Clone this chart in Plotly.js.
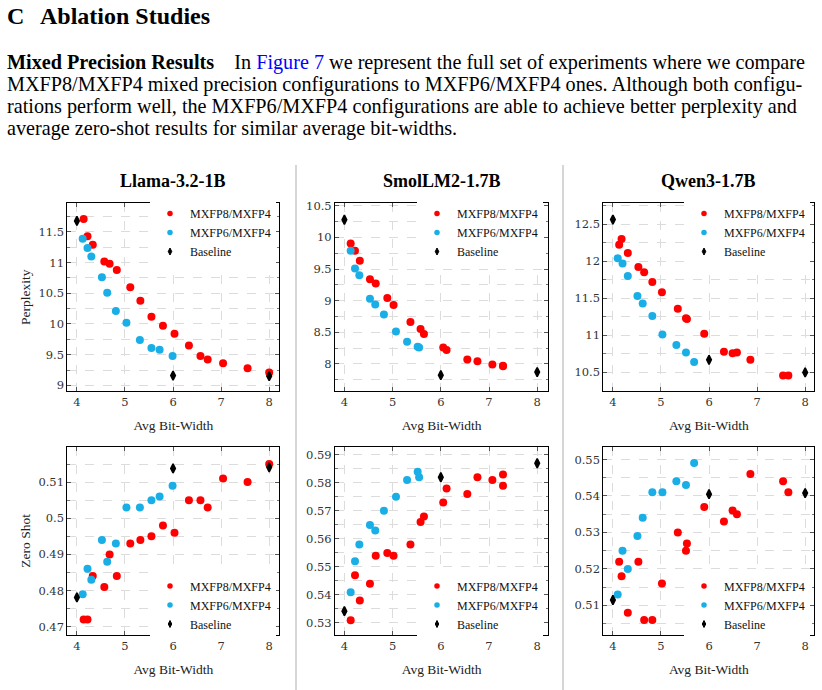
<!DOCTYPE html>
<html>
<head>
<meta charset="utf-8">
<script src="https://cdn.plot.ly/plotly-3.0.1.min.js"></script>
<style>
html,body{margin:0;padding:0;background:#fff;}
#chart{width:822px;height:690px;}
</style>
</head>
<body>
<div id="chart"></div>
<script>
// ---------------- DATA ----------------
const seriesNames = ['MXFP8/MXFP4', 'MXFP6/MXFP4', 'Baseline'];
const modelNames = ['Llama-3.2-1B', 'SmolLM2-1.7B', 'Qwen3-1.7B'];
const baselineBits = [4, 6, 8];

// Llama-3.2-1B
const llamaBitsFP8 = [4.14, 4.22, 4.33, 4.57, 4.68, 4.83, 5.11, 5.32, 5.55, 5.79, 6.03, 6.33, 6.57, 6.72, 7.04, 7.55, 8.0];
const llamaPplFP8  = [11.71, 11.43, 11.29, 11.02, 10.98, 10.88, 10.60, 10.38, 10.12, 9.97, 9.84, 9.65, 9.48, 9.42, 9.36, 9.28, 9.21];
const llamaZsFP8   = [0.472, 0.472, 0.484, 0.481, 0.490, 0.484, 0.493, 0.494, 0.495, 0.498, 0.496, 0.505, 0.505, 0.503, 0.511, 0.510, 0.515];
const llamaBitsFP6 = [4.12, 4.22, 4.30, 4.52, 4.63, 4.81, 5.03, 5.31, 5.55, 5.72, 5.99];
const llamaPplFP6  = [11.39, 11.24, 11.10, 10.76, 10.51, 10.21, 10.02, 9.74, 9.61, 9.58, 9.48];
const llamaZsFP6   = [0.479, 0.486, 0.483, 0.494, 0.488, 0.493, 0.503, 0.503, 0.505, 0.506, 0.509];
const llamaPplBase = [11.68, 9.16, 9.15];
const llamaZsBase  = [0.4781, 0.5138, 0.5141];

// SmolLM2-1.7B
const smolBitsFP8 = [4.13, 4.22, 4.32, 4.53, 4.65, 4.89, 5.02, 5.37, 5.58, 5.65, 6.05, 6.12, 6.55, 6.76, 7.07, 7.29, 7.29];
const smolPplFP8  = [9.905, 9.79, 9.63, 9.34, 9.27, 9.04, 8.93, 8.66, 8.55, 8.47, 8.26, 8.22, 8.07, 8.04, 7.99, 7.96, 7.97];
const smolZsFP8   = [0.531, 0.547, 0.538, 0.544, 0.554, 0.555, 0.554, 0.558, 0.566, 0.568, 0.573, 0.578, 0.576, 0.582, 0.581, 0.583, 0.579];
const smolBitsFP6 = [4.13, 4.22, 4.31, 4.53, 4.64, 4.82, 5.07, 5.30, 5.52, 5.55];
const smolPplFP6  = [9.79, 9.51, 9.40, 9.03, 8.94, 8.78, 8.51, 8.35, 8.27, 8.26];
const smolZsFP6   = [0.541, 0.552, 0.558, 0.565, 0.563, 0.570, 0.575, 0.581, 0.584, 0.582];
const smolPplBase = [10.28, 7.82, 7.87];
const smolZsBase  = [0.5342, 0.582, 0.587];

// Qwen3-1.7B
const qwenBitsFP8 = [4.13, 4.18, 4.31, 4.53, 4.65, 4.82, 5.02, 5.35, 5.52, 5.54, 5.90, 6.31, 6.49, 6.58, 6.86, 7.54, 7.65];
const qwenPplFP8  = [12.22, 12.30, 12.11, 11.92, 11.85, 11.72, 11.58, 11.36, 11.23, 11.22, 11.02, 10.78, 10.76, 10.77, 10.67, 10.46, 10.46];
const qwenZsFP8   = [0.522, 0.518, 0.508, 0.522, 0.506, 0.506, 0.516, 0.530, 0.525, 0.527, 0.537, 0.533, 0.536, 0.535, 0.546, 0.544, 0.541];
const qwenBitsFP6 = [4.10, 4.20, 4.31, 4.51, 4.62, 4.82, 5.03, 5.32, 5.52, 5.69];
const qwenPplFP6  = [12.04, 11.97, 11.80, 11.53, 11.43, 11.26, 11.01, 10.87, 10.77, 10.64];
const qwenZsFP6   = [0.513, 0.525, 0.520, 0.529, 0.534, 0.541, 0.541, 0.544, 0.543, 0.549];
const qwenPplBase = [12.56, 10.67, 10.50];
const qwenZsBase  = [0.5115, 0.5405, 0.5408];

// text
const sectionNumber = 'C';
const sectionTitle = 'Ablation Studies';
const paragraphLines = [
  "<b>Mixed Precision Results</b>\u2003In <span style='color:#0000ff'>Figure 7</span> we represent the full set of experiments where we compare",
  "MXFP8/MXFP4 mixed precision configurations to MXFP6/MXFP4 ones. Although both configu-",
  "rations perform well, the MXFP6/MXFP4 configurations are able to achieve better perplexity and",
  "average zero-shot results for similar average bit-widths."
];
const xTitle = 'Avg Bit-Width';
const yTitles = ['Perplexity', 'Zero Shot'];

// ---------------- LAYOUT HELPERS ----------------
const W = 822, H = 690;
const fx = p => p / W;
const fy = p => 1 - p / H;
const RED = '#ff0000', BLUE = '#1aaee6', BLACK = '#000000';
const SERIF = 'Liberation Serif';
const TICKFONT = {family: 'DejaVu Serif', size: 11.5, color: '#333'};

const cols = [[67.3, 279.3], [335, 548.3], [603.3, 814.3]];
const rows = [[203.3, 391], [446.7, 635]];
const xRanges = [[3.8, 8.21], [3.805, 8.23], [3.8, 8.19]];

const panels = [
  {r:0, c:0, f8:[llamaBitsFP8, llamaPplFP8], f6:[llamaBitsFP6, llamaPplFP6], base: llamaPplBase, yr:[8.908, 11.967], dt:0.5, mdt:0.25},
  {r:0, c:1, f8:[smolBitsFP8, smolPplFP8],   f6:[smolBitsFP6, smolPplFP6],   base: smolPplBase,  yr:[7.57, 10.54],   dt:0.5, mdt:0.25},
  {r:0, c:2, f8:[qwenBitsFP8, qwenPplFP8],   f6:[qwenBitsFP6, qwenPplFP6],   base: qwenPplBase,  yr:[10.25, 12.78],  dt:0.5, mdt:0.25},
  {r:1, c:0, f8:[llamaBitsFP8, llamaZsFP8],  f6:[llamaBitsFP6, llamaZsFP6],  base: llamaZsBase,  yr:[0.4677, 0.5198], dt:0.01, mdt:0.005},
  {r:1, c:1, f8:[smolBitsFP8, smolZsFP8],    f6:[smolBitsFP6, smolZsFP6],    base: smolZsBase,   yr:[0.5257, 0.5929], dt:0.01, mdt:0.005},
  {r:1, c:2, f8:[qwenBitsFP8, qwenZsFP8],    f6:[qwenBitsFP6, qwenZsFP6],    base: qwenZsBase,   yr:[0.5019, 0.5535], dt:0.01, mdt:0.005}
];
// legend text right-edge (px) and middle-row center (px)
const legendPos = [[271, 232.5], [538, 232.5], [805, 232.5], [271, 605], [538, 605], [805, 605]];

const traces = [];
const layout = {
  width: W, height: H,
  margin: {l:0, r:0, t:0, b:0},
  paper_bgcolor: '#fff', plot_bgcolor: '#fff',
  showlegend: true,
  annotations: [], shapes: []
};

panels.forEach((p, i) => {
  const n = i + 1;
  const xa = n === 1 ? 'x' : 'x' + n;
  const ya = n === 1 ? 'y' : 'y' + n;
  const lg = n === 1 ? 'legend' : 'legend' + n;
  const common = {type:'scatter', mode:'markers', xaxis: xa, yaxis: ya, hoverinfo:'x+y', showlegend:false};
  traces.push(Object.assign({}, common, {x: p.f8[0], y: p.f8[1], name: seriesNames[0], marker:{color: RED, size: 8}}));
  traces.push(Object.assign({}, common, {x: p.f6[0], y: p.f6[1], name: seriesNames[1], marker:{color: BLUE, size: 8}}));
  traces.push(Object.assign({}, common, {x: baselineBits, y: p.base, name: seriesNames[2], marker:{color: BLACK, size: 6.5, symbol:'diamond-tall', line:{color: BLACK, width: 1.6}}}));
  // legend entries (no data of their own)
  const lgd = {type:'scatter', mode:'markers', xaxis: xa, yaxis: ya, x:[null], y:[null], showlegend:true, legend: lg, hoverinfo:'skip'};
  traces.push(Object.assign({}, lgd, {name: seriesNames[0], marker:{color: RED, size: 5.5}}));
  traces.push(Object.assign({}, lgd, {name: seriesNames[1], marker:{color: BLUE, size: 5.5}}));
  traces.push(Object.assign({}, lgd, {name: seriesNames[2], marker:{color: BLACK, size: 5, symbol:'diamond-tall', line:{color: BLACK, width: 1}}}));

  const axBase = {
    showline: true, linecolor: '#000', linewidth: 1, mirror: 'ticks',
    ticks: 'inside', ticklen: 4, tickcolor: '#555', tickwidth: 1,
    showgrid: true, gridcolor: '#dcdcdc', griddash: 'dash', gridwidth: 1,
    zeroline: false, tickfont: TICKFONT, fixedrange: true
  };
  layout['xaxis' + (n === 1 ? '' : n)] = Object.assign({}, axBase, {
    domain: [fx(cols[p.c][0]), fx(cols[p.c][1])],
    range: xRanges[p.c], tickmode: 'linear', tick0: 4, dtick: 1,
    anchor: ya,
    title: {text: xTitle, font: {family: SERIF, size: 13.5, color: '#222'}, standoff: 12}
  });
  const yax = Object.assign({}, axBase, {
    domain: [fy(rows[p.r][1]), fy(rows[p.r][0])],
    range: p.yr, tickmode: 'linear', tick0: 0, dtick: p.dt,
    anchor: xa,
    minor: {dtick: p.mdt, tick0: 0, ticks: 'inside', ticklen: 2.5, tickcolor: '#777', showgrid: true, gridcolor: '#dcdcdc', griddash: 'dash', gridwidth: 1}
  });
  if (p.c === 0) {
    yax.title = {text: yTitles[p.r], font: {family: SERIF, size: 13.5, color: '#222'}, standoff: 4};
  }
  layout['yaxis' + (n === 1 ? '' : n)] = yax;

  const lp = legendPos[i];
  layout[lg] = {
    x: fx(lp[0] + 5), xanchor: 'right',
    y: fy(lp[1]), yanchor: 'middle',
    bgcolor: '#fff', borderwidth: 0,
    font: {family: SERIF, size: 12, color: '#111'},
    itemsizing: 'trace', itemclick: false, itemdoubleclick: false, tracegroupgap: 0
  };

  if (p.r === 0) {
    layout.annotations.push({
      text: '<b>' + modelNames[p.c] + '</b>', xref:'paper', yref:'paper',
      x: fx((cols[p.c][0] + cols[p.c][1]) / 2), y: fy(181), xanchor:'center', yanchor:'middle',
      showarrow:false, font:{family: SERIF, size: 18, color:'#000'}
    });
  }
});

// header text
layout.annotations.push({text: '<b>' + sectionNumber + '</b>', xref:'paper', yref:'paper', x: fx(5), y: fy(16), xanchor:'left', yanchor:'middle', showarrow:false, font:{family: SERIF, size: 24, color:'#000'}});
layout.annotations.push({text: '<b>' + sectionTitle + '</b>', xref:'paper', yref:'paper', x: fx(38), y: fy(16), xanchor:'left', yanchor:'middle', showarrow:false, font:{family: SERIF, size: 24, color:'#000'}});
const lineY = [62, 84.5, 106.5, 128.5];
paragraphLines.forEach((t, k) => {
  layout.annotations.push({text: t, xref:'paper', yref:'paper', x: fx(5), y: fy(lineY[k]), xanchor:'left', yanchor:'middle', showarrow:false, font:{family: SERIF, size: 20.2, color:'#000'}});
});

// column separators
[296, 563].forEach(px => {
  layout.shapes.push({type:'line', xref:'paper', yref:'paper', x0: fx(px), x1: fx(px), y0: fy(165), y1: fy(690), line:{color:'#c8c8c8', width:1.5}});
});

Plotly.newPlot('chart', traces, layout, {staticPlot: true, displayModeBar: false});
</script>
</body>
</html>
